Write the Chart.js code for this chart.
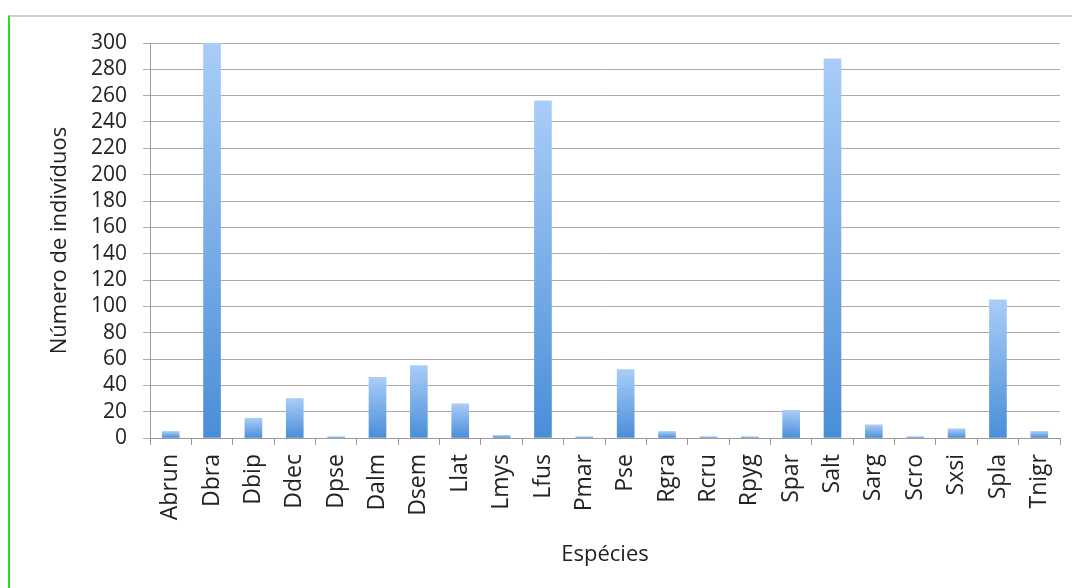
<!DOCTYPE html>
<html>
<head>
<meta charset="utf-8">
<script src="https://cdn.jsdelivr.net/npm/chart.js@4"></script>
<style>
  html, body { margin: 0; padding: 0; background: #fff; }
  #wrap { position: relative; width: 1072px; height: 588px; }
  #frame { position: absolute; left: 8px; top: 15px; right: 0; bottom: 0;
           border-top: 2px solid #d0d0d0; border-left: 2px solid #22dd22; }
  canvas { position: absolute; left: 0; top: 0; }
</style>
</head>
<body>
<div id="wrap">
  <div id="frame"></div>
  <canvas id="c" width="1072" height="588"></canvas>
</div>
<script>
const categories = ["Abrun","Dbra","Dbip","Ddec","Dpse","Dalm","Dsem","Llat","Lmys","Lfus","Pmar","Pse","Rgra","Rcru","Rpyg","Spar","Salt","Sarg","Scro","Sxsi","Spla","Tnigr"];
const individuals = [5, 300, 15, 30, 1, 46, 55, 26, 2, 256, 1, 52, 5, 1, 1, 21, 288, 10, 1, 7, 105, 5];
const yTitle = "Número de indivíduos";
const xTitle = "Espécies";

const FONT = "'Open Sans', 'DejaVu Sans', sans-serif";

function barGradient(ctx) {
  const chart = ctx.chart;
  const y = chart.scales.y;
  if (!y || ctx.dataIndex === undefined) return '#6fa6e6';
  const v = ctx.dataset.data[ctx.dataIndex];
  const top = y.getPixelForValue(v);
  const base = y.getPixelForValue(0);
  if (!isFinite(top) || !isFinite(base) || top === base) return '#6fa6e6';
  const g = chart.ctx.createLinearGradient(0, top, 0, base);
  g.addColorStop(0, '#a9cdf7');
  g.addColorStop(1, '#4a8ed8');
  return g;
}

new Chart(document.getElementById('c'), {
  type: 'bar',
  data: {
    labels: categories,
    datasets: [{
      data: individuals,
      backgroundColor: barGradient,
      borderWidth: 0,
      barThickness: 17,
      categoryPercentage: 1,
      barPercentage: 0.4
    }]
  },
  options: {
    responsive: false,
    animation: false,
    devicePixelRatio: 1,
    layout: { padding: { top: 43, right: 12, left: 0, bottom: 0 } },
    plugins: { legend: { display: false }, tooltip: { enabled: false } },
    scales: {
      y: {
        min: 0, max: 300,
        ticks: { stepSize: 20, autoSkip: false, color: '#222', font: { family: FONT, size: 21 }, padding: 16 },
        grid: { color: '#ababab', lineWidth: 1, tickLength: 7, drawTicks: true },
        border: { color: '#9a9a9a', width: 1 },
        title: { display: true, text: yTitle, color: '#222', font: { family: FONT, size: 22 }, padding: { top: 47, bottom: 0 } },
        afterFit(scale) { scale.width = 150; scale.paddingTop = 0; scale.paddingBottom = 0; }
      },
      x: {
        offset: true,
        ticks: { color: '#222', font: { family: FONT, size: 23 }, minRotation: 90, maxRotation: 90, padding: 9, autoSkip: false },
        grid: { drawOnChartArea: false, drawTicks: true, tickLength: 7, color: '#9a9a9a', offset: true },
        border: { color: '#9a9a9a', width: 1 },
        title: { display: true, text: xTitle, color: '#222', font: { family: FONT, size: 22 }, padding: { top: 0, bottom: 20 } },
        afterFit(scale) { scale.height = 150; scale.paddingRight = 0; scale.paddingLeft = 0; }
      }
    }
  }
});
</script>
</body>
</html>
